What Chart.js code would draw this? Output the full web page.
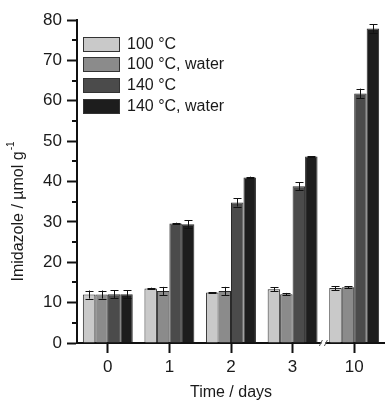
<!DOCTYPE html>
<html>
<head>
<meta charset="utf-8">
<script src="https://cdn.jsdelivr.net/npm/chart.js@4.4.1/dist/chart.umd.min.js"></script>
<style>
  html, body { margin: 0; padding: 0; background: #fff; }
  #wrap { width: 385px; height: 402px; position: relative; }
</style>
</head>
<body>
<div id="wrap"><canvas id="chart"></canvas></div>
<script>
var days = ['0', '1', '2', '3', '10'];
var seriesNames = ['100 °C', '100 °C, water', '140 °C', '140 °C, water'];

var t100 = [12.0, 13.5, 12.5, 13.3, 13.6];
var t100Water = [12.0, 12.9, 12.9, 12.1, 13.8];
var t140 = [12.1, 29.6, 34.8, 38.8, 61.8];
var t140Water = [12.1, 29.4, 41.0, 46.2, 77.9];

var err100 = [1.0, 0.2, 0.1, 0.5, 0.5];
var err100Water = [1.0, 1.0, 1.0, 0.3, 0.2];
var err140 = [1.0, 0.2, 1.0, 1.0, 1.2];
var err140Water = [1.0, 1.0, 0.2, 0.1, 1.0];

var colors = ['#c9c9c9', '#8b8b8b', '#4b4b4b', '#1d1d1d'];
var FONT = '"Liberation Sans", Arial, sans-serif';

var values = [t100, t100Water, t140, t140Water];
var errs = [err100, err100Water, err140, err140Water];

// error bars drawn from the errs arrays
var errorBars = {
    id: 'errorBars',
    afterDatasetsDraw: function (chart) {
        var ctx = chart.ctx;
        var y = chart.scales.y;
        ctx.save();
        ctx.strokeStyle = '#111';
        ctx.lineWidth = 1;
        chart.data.datasets.forEach(function (ds, i) {
            var meta = chart.getDatasetMeta(i);
            meta.data.forEach(function (bar, j) {
                var v = ds.data[j], e = errs[i][j];
                var top = y.getPixelForValue(v + e);
                var bot = y.getPixelForValue(v - e);
                var x = Math.round(bar.x) + 0.5;
                ctx.beginPath();
                ctx.moveTo(x, top); ctx.lineTo(x, bot);
                ctx.moveTo(x - 4, Math.round(top) + 0.5); ctx.lineTo(x + 4, Math.round(top) + 0.5);
                ctx.moveTo(x - 4, Math.round(bot) + 0.5); ctx.lineTo(x + 4, Math.round(bot) + 0.5);
                ctx.stroke();
            });
        });
        ctx.restore();
    }
};

// minor ticks, legend box, y title, axis break
var extras = {
    id: 'extras',
    afterDraw: function (chart) {
        var ctx = chart.ctx;
        var y = chart.scales.y, x = chart.scales.x;
        var area = chart.chartArea;
        ctx.save();
        ctx.strokeStyle = '#111';
        ctx.lineWidth = 2;
        for (var v = 5; v < 80; v += 10) {
            var py = Math.round(y.getPixelForValue(v));
            ctx.beginPath();
            ctx.moveTo(area.left - 5, py); ctx.lineTo(area.left, py);
            ctx.stroke();
        }

        // legend
        var lx = area.left + 6, ly = area.top + 23.7;
        ctx.font = '16px ' + FONT;
        ctx.textBaseline = 'middle';
        ctx.lineWidth = 1;
        for (var i = 0; i < seriesNames.length; i++) {
            var cy = Math.round(ly + i * 20.6);
            ctx.fillStyle = colors[i];
            ctx.fillRect(lx + 0.5, cy - 6.5, 36, 14);
            ctx.strokeStyle = '#333';
            ctx.strokeRect(lx + 0.5, cy - 6.5, 36, 14);
            ctx.fillStyle = '#1a1a1a';
            ctx.fillText(seriesNames[i], lx + 44, cy + 1);
        }

        // y title with superscript
        ctx.save();
        ctx.translate(23, 212);
        ctx.rotate(-Math.PI / 2);
        ctx.fillStyle = '#1a1a1a';
        ctx.font = '16px ' + FONT;
        ctx.textBaseline = 'alphabetic';
        var main = 'Imidazole / \u00b5mol g';
        var w = ctx.measureText(main).width;
        ctx.font = '10px ' + FONT;
        var sw = ctx.measureText('-1').width;
        var sx = -(w + sw) / 2;
        ctx.font = '16px ' + FONT;
        ctx.fillText(main, sx, 0);
        ctx.font = '10px ' + FONT;
        ctx.fillText('-1', sx + w + 1, -9);
        ctx.restore();

        // axis break between 3 and 10
        var bx = (x.getPixelForValue(3) + x.getPixelForValue(4)) / 2;
        var by = area.bottom;
        ctx.fillStyle = '#fff';
        ctx.fillRect(bx - 2, by - 3, 4, 6);
        ctx.strokeStyle = '#555';
        ctx.lineWidth = 1;
        ctx.beginPath();
        ctx.moveTo(bx - 4, by + 3); ctx.lineTo(bx - 1, by - 3);
        ctx.moveTo(bx + 1, by + 3); ctx.lineTo(bx + 4, by - 3);
        ctx.stroke();
        ctx.restore();
    }
};

var datasets = [];
for (var i = 0; i < seriesNames.length; i++) {
    datasets.push({
        label: seriesNames[i],
        data: values[i],
        backgroundColor: colors[i],
        borderColor: '#2a2a2a',
        borderWidth: 1,
        barPercentage: 1.0,
        categoryPercentage: 0.81
    });
}

var ctx = document.getElementById('chart').getContext('2d');
var chart = new Chart(ctx, {
    type: 'bar',
    data: { labels: days, datasets: datasets },
    options: {
        responsive: true,
        maintainAspectRatio: false,
        animation: false,
        layout: { padding: { top: 20, right: 0, left: 0, bottom: 0 } },
        plugins: {
            legend: { display: false },
            tooltip: { enabled: false }
        },
        scales: {
            x: {
                grid: {
                    offset: false,
                    drawOnChartArea: false,
                    drawTicks: true,
                    tickLength: 10,
                    tickWidth: 2,
                    tickColor: '#111'
                },
                border: { color: '#111', width: 2 },
                ticks: {
                    color: '#1a1a1a',
                    font: { family: FONT, size: 17 },
                    padding: 4
                },
                title: {
                    display: true,
                    text: 'Time / days',
                    color: '#1a1a1a',
                    font: { family: FONT, size: 16 },
                    padding: { top: 5, bottom: 0 }
                },
                afterFit: function (s) { s.height = 59; }
            },
            y: {
                min: 0,
                max: 80,
                ticks: {
                    stepSize: 10,
                    color: '#1a1a1a',
                    font: { family: FONT, size: 17 },
                    padding: 5
                },
                grid: {
                    drawOnChartArea: false,
                    drawTicks: true,
                    tickLength: 10,
                    tickWidth: 2,
                    tickColor: '#111'
                },
                border: { color: '#111', width: 2 },
                afterFit: function (s) { s.width = 77; }
            }
        }
    },
    plugins: [errorBars, extras]
});
</script>
</body>
</html>
